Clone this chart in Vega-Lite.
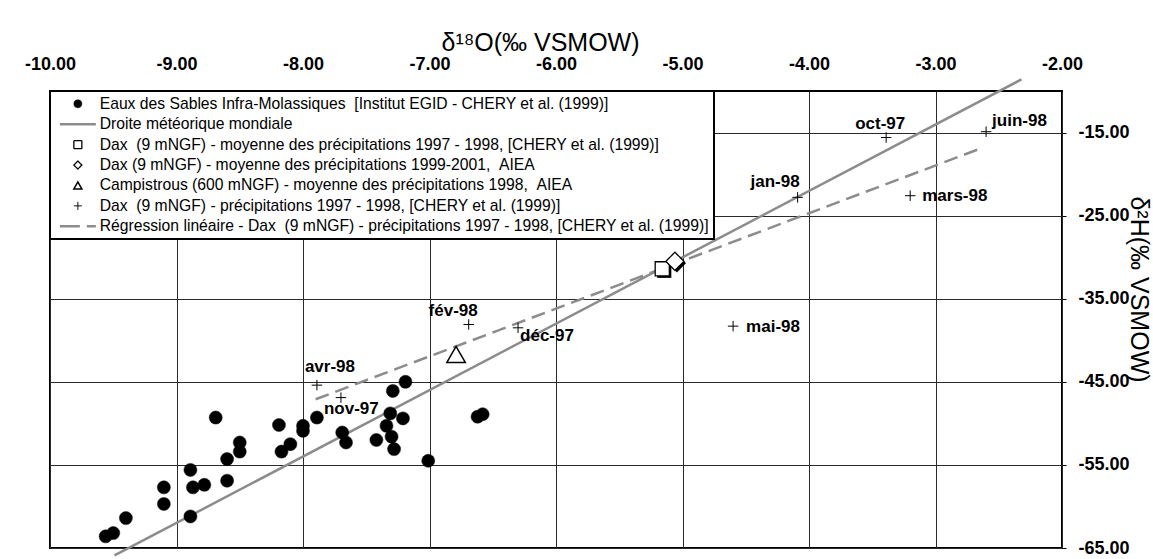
{
  "$schema": "https://vega.github.io/schema/vega-lite/v6.json",
  "width": 1012,
  "height": 457,
  "autosize": {"type": "none"},
  "padding": {"left": 50, "top": 91, "right": 91, "bottom": 11},
  "background": "white",
  "config": {
    "font": "Liberation Sans",
    "view": {"stroke": "black", "strokeWidth": 2},
    "axis": {
      "grid": true, "gridColor": "#2a2a2a", "gridWidth": 1, "gridOpacity": 1,
      "domain": false,
      "labelFont": "Liberation Sans", "labelFontWeight": "bold", "labelFontSize": 18, "labelColor": "black",
      "titleFont": "Liberation Sans", "titleFontWeight": "normal", "titleFontSize": 25, "titleColor": "black",
      "labelFlush": false, "labelOverlap": false, "tickColor": "black",
      "labelExpr": "replace(format(datum.value, '.2f'), '\u2212', '-')"
    },
    "legend": {
      "orient": "top-left", "offset": 0, "padding": 5,
      "fillColor": "white", "strokeColor": "black", "strokeWidth": 2,
      "symbolSize": 64, "symbolStrokeWidth": 1.3, "symbolOffset": 15,
      "labelOffset": 14, "labelFont": "Liberation Sans", "labelFontSize": 15.7, "labelColor": "black",
      "labelLimit": 900, "rowPadding": 3.4
    }
  },
  "datasets": {
    "points": [
      {"serie": "Eaux des Sables Infra-Molassiques \u00a0[Institut EGID - CHERY et al. (1999)]", "o18": -7.29, "h2": -46.1},
      {"serie": "Eaux des Sables Infra-Molassiques \u00a0[Institut EGID - CHERY et al. (1999)]", "o18": -7.19, "h2": -45.0},
      {"serie": "Eaux des Sables Infra-Molassiques \u00a0[Institut EGID - CHERY et al. (1999)]", "o18": -7.31, "h2": -48.8},
      {"serie": "Eaux des Sables Infra-Molassiques \u00a0[Institut EGID - CHERY et al. (1999)]", "o18": -7.34, "h2": -50.3},
      {"serie": "Eaux des Sables Infra-Molassiques \u00a0[Institut EGID - CHERY et al. (1999)]", "o18": -7.21, "h2": -49.4},
      {"serie": "Eaux des Sables Infra-Molassiques \u00a0[Institut EGID - CHERY et al. (1999)]", "o18": -7.30, "h2": -51.6},
      {"serie": "Eaux des Sables Infra-Molassiques \u00a0[Institut EGID - CHERY et al. (1999)]", "o18": -7.28, "h2": -53.1},
      {"serie": "Eaux des Sables Infra-Molassiques \u00a0[Institut EGID - CHERY et al. (1999)]", "o18": -7.42, "h2": -52.0},
      {"serie": "Eaux des Sables Infra-Molassiques \u00a0[Institut EGID - CHERY et al. (1999)]", "o18": -7.69, "h2": -51.1},
      {"serie": "Eaux des Sables Infra-Molassiques \u00a0[Institut EGID - CHERY et al. (1999)]", "o18": -7.66, "h2": -52.3},
      {"serie": "Eaux des Sables Infra-Molassiques \u00a0[Institut EGID - CHERY et al. (1999)]", "o18": -7.89, "h2": -49.3},
      {"serie": "Eaux des Sables Infra-Molassiques \u00a0[Institut EGID - CHERY et al. (1999)]", "o18": -8.00, "h2": -50.3},
      {"serie": "Eaux des Sables Infra-Molassiques \u00a0[Institut EGID - CHERY et al. (1999)]", "o18": -8.00, "h2": -50.9},
      {"serie": "Eaux des Sables Infra-Molassiques \u00a0[Institut EGID - CHERY et al. (1999)]", "o18": -8.10, "h2": -52.5},
      {"serie": "Eaux des Sables Infra-Molassiques \u00a0[Institut EGID - CHERY et al. (1999)]", "o18": -8.17, "h2": -53.4},
      {"serie": "Eaux des Sables Infra-Molassiques \u00a0[Institut EGID - CHERY et al. (1999)]", "o18": -8.19, "h2": -50.2},
      {"serie": "Eaux des Sables Infra-Molassiques \u00a0[Institut EGID - CHERY et al. (1999)]", "o18": -8.50, "h2": -52.3},
      {"serie": "Eaux des Sables Infra-Molassiques \u00a0[Institut EGID - CHERY et al. (1999)]", "o18": -8.50, "h2": -53.4},
      {"serie": "Eaux des Sables Infra-Molassiques \u00a0[Institut EGID - CHERY et al. (1999)]", "o18": -8.60, "h2": -54.3},
      {"serie": "Eaux des Sables Infra-Molassiques \u00a0[Institut EGID - CHERY et al. (1999)]", "o18": -8.60, "h2": -56.9},
      {"serie": "Eaux des Sables Infra-Molassiques \u00a0[Institut EGID - CHERY et al. (1999)]", "o18": -8.69, "h2": -49.3},
      {"serie": "Eaux des Sables Infra-Molassiques \u00a0[Institut EGID - CHERY et al. (1999)]", "o18": -8.78, "h2": -57.4},
      {"serie": "Eaux des Sables Infra-Molassiques \u00a0[Institut EGID - CHERY et al. (1999)]", "o18": -8.87, "h2": -57.7},
      {"serie": "Eaux des Sables Infra-Molassiques \u00a0[Institut EGID - CHERY et al. (1999)]", "o18": -8.89, "h2": -55.6},
      {"serie": "Eaux des Sables Infra-Molassiques \u00a0[Institut EGID - CHERY et al. (1999)]", "o18": -8.89, "h2": -61.2},
      {"serie": "Eaux des Sables Infra-Molassiques \u00a0[Institut EGID - CHERY et al. (1999)]", "o18": -9.10, "h2": -57.7},
      {"serie": "Eaux des Sables Infra-Molassiques \u00a0[Institut EGID - CHERY et al. (1999)]", "o18": -9.10, "h2": -59.7},
      {"serie": "Eaux des Sables Infra-Molassiques \u00a0[Institut EGID - CHERY et al. (1999)]", "o18": -9.40, "h2": -61.4},
      {"serie": "Eaux des Sables Infra-Molassiques \u00a0[Institut EGID - CHERY et al. (1999)]", "o18": -9.50, "h2": -63.2},
      {"serie": "Eaux des Sables Infra-Molassiques \u00a0[Institut EGID - CHERY et al. (1999)]", "o18": -9.56, "h2": -63.6},
      {"serie": "Eaux des Sables Infra-Molassiques \u00a0[Institut EGID - CHERY et al. (1999)]", "o18": -7.01, "h2": -54.5},
      {"serie": "Eaux des Sables Infra-Molassiques \u00a0[Institut EGID - CHERY et al. (1999)]", "o18": -6.62, "h2": -49.2},
      {"serie": "Eaux des Sables Infra-Molassiques \u00a0[Institut EGID - CHERY et al. (1999)]", "o18": -6.58, "h2": -48.9},
      {"serie": "Dax \u00a0(9 mNGF) - moyenne des précipitations 1997 - 1998, [CHERY et al. (1999)]", "o18": -5.16, "h2": -31.4},
      {"serie": "Dax (9 mNGF) - moyenne des précipitations 1999-2001, \u00a0AIEA", "o18": -5.06, "h2": -30.5},
      {"serie": "Campistrous (600 mNGF) - moyenne des précipitations 1998, \u00a0AIEA", "o18": -6.79, "h2": -41.7}
    ],
    "crosses": [
      {"serie": "Dax \u00a0(9 mNGF) - précipitations 1997 - 1998, [CHERY et al. (1999)]", "mois": "oct-97", "o18": -3.39, "h2": -15.6},
      {"serie": "Dax \u00a0(9 mNGF) - précipitations 1997 - 1998, [CHERY et al. (1999)]", "mois": "nov-97", "o18": -7.70, "h2": -46.9},
      {"serie": "Dax \u00a0(9 mNGF) - précipitations 1997 - 1998, [CHERY et al. (1999)]", "mois": "déc-97", "o18": -6.30, "h2": -38.5},
      {"serie": "Dax \u00a0(9 mNGF) - précipitations 1997 - 1998, [CHERY et al. (1999)]", "mois": "jan-98", "o18": -4.09, "h2": -22.8},
      {"serie": "Dax \u00a0(9 mNGF) - précipitations 1997 - 1998, [CHERY et al. (1999)]", "mois": "fév-98", "o18": -6.69, "h2": -38.1},
      {"serie": "Dax \u00a0(9 mNGF) - précipitations 1997 - 1998, [CHERY et al. (1999)]", "mois": "mars-98", "o18": -3.20, "h2": -22.6},
      {"serie": "Dax \u00a0(9 mNGF) - précipitations 1997 - 1998, [CHERY et al. (1999)]", "mois": "avr-98", "o18": -7.89, "h2": -45.4},
      {"serie": "Dax \u00a0(9 mNGF) - précipitations 1997 - 1998, [CHERY et al. (1999)]", "mois": "mai-98", "o18": -4.60, "h2": -38.3},
      {"serie": "Dax \u00a0(9 mNGF) - précipitations 1997 - 1998, [CHERY et al. (1999)]", "mois": "juin-98", "o18": -2.60, "h2": -14.9}
    ],
    "gmwl": [
      {"serie": "Droite météorique mondiale", "o18": -9.49, "h2": -65.9},
      {"serie": "Droite météorique mondiale", "o18": -2.32, "h2": -8.6}
    ],
    "regression": [
      {"serie": "Régression linéaire - Dax \u00a0(9 mNGF) - précipitations 1997 - 1998, [CHERY et al. (1999)]", "o18": -7.90, "h2": -47.1},
      {"serie": "Régression linéaire - Dax \u00a0(9 mNGF) - précipitations 1997 - 1998, [CHERY et al. (1999)]", "o18": -2.64, "h2": -16.9}
    ]
  },
  "encoding": {
    "x": {
      "field": "o18", "type": "quantitative",
      "scale": {"domain": [-10, -2], "nice": false, "zero": false},
      "axis": {
        "orient": "top", "values": [-10, -9, -8, -7, -6, -5, -4, -3, -2],
        "title": "δ¹⁸O(‰ VSMOW)", "ticks": false, "labelPadding": 18,
        "titleX": 490, "titleY": -41, "titleBaseline": "alphabetic", "titleAlign": "center", "titleAnchor": null
      }
    },
    "y": {
      "field": "h2", "type": "quantitative",
      "scale": {"domain": [-65, -10], "nice": false, "zero": false},
      "axis": {
        "orient": "right", "values": [-15, -25, -35, -45, -55, -65],
        "title": "δ²H(‰ VSMOW)", "tickSize": 4, "labelPadding": 12,
        "titleX": 68, "titleY": 198, "titleAngle": 90, "titleBaseline": "alphabetic", "titleAlign": "center", "titleAnchor": null
      }
    }
  },
  "layer": [
    {
      "data": {"name": "gmwl"},
      "mark": {"type": "line", "color": "#8c8c8c", "strokeWidth": 2.5, "clip": false}
    },
    {
      "data": {"name": "regression"},
      "mark": {"type": "line", "color": "#8c8c8c", "strokeWidth": 2.5, "strokeDash": [14, 7], "clip": false}
    },
    {
      "data": {"name": "points"},
      "transform": [{"filter": "indexof(datum.serie, '1997 - 1998, [CHERY') > 0"}],
      "mark": {"type": "point", "shape": "square", "size": 200, "filled": true, "color": "black", "opacity": 1, "xOffset": 2, "yOffset": 2}
    },
    {
      "data": {"name": "points"},
      "transform": [{"filter": "indexof(datum.serie, '1999-2001') > 0"}],
      "mark": {"type": "point", "shape": "diamond", "size": 330, "filled": true, "color": "black", "opacity": 1, "xOffset": 2, "yOffset": 2}
    },
    {
      "data": {"name": "points"},
      "mark": {"type": "point", "opacity": 1},
      "encoding": {
        "fill": {"field": "serie", "type": "nominal", "title": null,
          "scale": {"domain": ["Eaux des Sables Infra-Molassiques \u00a0[Institut EGID - CHERY et al. (1999)]", "Droite météorique mondiale", "Dax \u00a0(9 mNGF) - moyenne des précipitations 1997 - 1998, [CHERY et al. (1999)]", "Dax (9 mNGF) - moyenne des précipitations 1999-2001, \u00a0AIEA", "Campistrous (600 mNGF) - moyenne des précipitations 1998, \u00a0AIEA", "Dax \u00a0(9 mNGF) - précipitations 1997 - 1998, [CHERY et al. (1999)]", "Régression linéaire - Dax \u00a0(9 mNGF) - précipitations 1997 - 1998, [CHERY et al. (1999)]"],
            "range": ["black", "transparent", "white", "white", "white", "transparent", "transparent"]}},
        "stroke": {"field": "serie", "type": "nominal", "title": null,
          "scale": {"domain": ["Eaux des Sables Infra-Molassiques \u00a0[Institut EGID - CHERY et al. (1999)]", "Droite météorique mondiale", "Dax \u00a0(9 mNGF) - moyenne des précipitations 1997 - 1998, [CHERY et al. (1999)]", "Dax (9 mNGF) - moyenne des précipitations 1999-2001, \u00a0AIEA", "Campistrous (600 mNGF) - moyenne des précipitations 1998, \u00a0AIEA", "Dax \u00a0(9 mNGF) - précipitations 1997 - 1998, [CHERY et al. (1999)]", "Régression linéaire - Dax \u00a0(9 mNGF) - précipitations 1997 - 1998, [CHERY et al. (1999)]"],
            "range": ["black", "#8c8c8c", "black", "black", "black", "black", "#8c8c8c"]}},
        "shape": {"field": "serie", "type": "nominal", "title": null,
          "scale": {"domain": ["Eaux des Sables Infra-Molassiques \u00a0[Institut EGID - CHERY et al. (1999)]", "Droite météorique mondiale", "Dax \u00a0(9 mNGF) - moyenne des précipitations 1997 - 1998, [CHERY et al. (1999)]", "Dax (9 mNGF) - moyenne des précipitations 1999-2001, \u00a0AIEA", "Campistrous (600 mNGF) - moyenne des précipitations 1998, \u00a0AIEA", "Dax \u00a0(9 mNGF) - précipitations 1997 - 1998, [CHERY et al. (1999)]", "Régression linéaire - Dax \u00a0(9 mNGF) - précipitations 1997 - 1998, [CHERY et al. (1999)]"],
            "range": ["circle", "M-4.5,0H4.5", "square", "diamond", "triangle-up", "M-1,0H1M0,-1V1", "M-4.5,0H4.5"]}},
        "strokeDash": {"field": "serie", "type": "nominal", "title": null,
          "scale": {"domain": ["Eaux des Sables Infra-Molassiques \u00a0[Institut EGID - CHERY et al. (1999)]", "Droite météorique mondiale", "Dax \u00a0(9 mNGF) - moyenne des précipitations 1997 - 1998, [CHERY et al. (1999)]", "Dax (9 mNGF) - moyenne des précipitations 1999-2001, \u00a0AIEA", "Campistrous (600 mNGF) - moyenne des précipitations 1998, \u00a0AIEA", "Dax \u00a0(9 mNGF) - précipitations 1997 - 1998, [CHERY et al. (1999)]", "Régression linéaire - Dax \u00a0(9 mNGF) - précipitations 1997 - 1998, [CHERY et al. (1999)]"],
            "range": [[1, 0], [1, 0], [1, 0], [1, 0], [1, 0], [1, 0], [20, 7]]}},
        "strokeWidth": {"field": "serie", "type": "nominal", "title": null,
          "scale": {"type": "ordinal", "domain": ["Eaux des Sables Infra-Molassiques \u00a0[Institut EGID - CHERY et al. (1999)]", "Droite météorique mondiale", "Dax \u00a0(9 mNGF) - moyenne des précipitations 1997 - 1998, [CHERY et al. (1999)]", "Dax (9 mNGF) - moyenne des précipitations 1999-2001, \u00a0AIEA", "Campistrous (600 mNGF) - moyenne des précipitations 1998, \u00a0AIEA", "Dax \u00a0(9 mNGF) - précipitations 1997 - 1998, [CHERY et al. (1999)]", "Régression linéaire - Dax \u00a0(9 mNGF) - précipitations 1997 - 1998, [CHERY et al. (1999)]"],
            "range": [0.5, 2.5, 1.3, 1.3, 1.5, 1, 2.5]}},
        "size": {"field": "serie", "type": "nominal", "legend": null,
          "scale": {"type": "ordinal", "domain": ["Eaux des Sables Infra-Molassiques \u00a0[Institut EGID - CHERY et al. (1999)]", "Dax \u00a0(9 mNGF) - moyenne des précipitations 1997 - 1998, [CHERY et al. (1999)]", "Dax (9 mNGF) - moyenne des précipitations 1999-2001, \u00a0AIEA", "Campistrous (600 mNGF) - moyenne des précipitations 1998, \u00a0AIEA"],
            "range": [169, 200, 330, 340]}}
      }
    },
    {
      "data": {"name": "crosses"},
      "mark": {"type": "point", "opacity": 1, "shape": "M-1,0H1M0,-1V1", "size": 110, "stroke": "black", "strokeWidth": 1, "fill": "transparent"}
    },
    {
      "data": {"name": "crosses"},
      "transform": [{"filter": {"field": "mois", "equal": "oct-97"}}],
      "mark": {"type": "text", "font": "Liberation Sans", "fontWeight": "bold", "fontSize": 17, "color": "black", "align": "center", "baseline": "alphabetic", "dx": -6, "dy": -9},
      "encoding": {"text": {"field": "mois"}}
    },
    {
      "data": {"name": "crosses"},
      "transform": [{"filter": {"field": "mois", "equal": "juin-98"}}],
      "mark": {"type": "text", "font": "Liberation Sans", "fontWeight": "bold", "fontSize": 17, "color": "black", "align": "left", "baseline": "alphabetic", "dx": 6, "dy": -6},
      "encoding": {"text": {"field": "mois"}}
    },
    {
      "data": {"name": "crosses"},
      "transform": [{"filter": {"field": "mois", "equal": "jan-98"}}],
      "mark": {"type": "text", "font": "Liberation Sans", "fontWeight": "bold", "fontSize": 17, "color": "black", "align": "right", "baseline": "alphabetic", "dx": 2, "dy": -10},
      "encoding": {"text": {"field": "mois"}}
    },
    {
      "data": {"name": "crosses"},
      "transform": [{"filter": {"field": "mois", "equal": "mars-98"}}],
      "mark": {"type": "text", "font": "Liberation Sans", "fontWeight": "bold", "fontSize": 17, "color": "black", "align": "left", "baseline": "alphabetic", "dx": 12, "dy": 5},
      "encoding": {"text": {"field": "mois"}}
    },
    {
      "data": {"name": "crosses"},
      "transform": [{"filter": {"field": "mois", "equal": "mai-98"}}],
      "mark": {"type": "text", "font": "Liberation Sans", "fontWeight": "bold", "fontSize": 17, "color": "black", "align": "left", "baseline": "alphabetic", "dx": 13, "dy": 6},
      "encoding": {"text": {"field": "mois"}}
    },
    {
      "data": {"name": "crosses"},
      "transform": [{"filter": {"field": "mois", "equal": "fév-98"}}],
      "mark": {"type": "text", "font": "Liberation Sans", "fontWeight": "bold", "fontSize": 17, "color": "black", "align": "right", "baseline": "alphabetic", "dx": 9, "dy": -8},
      "encoding": {"text": {"field": "mois"}}
    },
    {
      "data": {"name": "crosses"},
      "transform": [{"filter": {"field": "mois", "equal": "déc-97"}}],
      "mark": {"type": "text", "font": "Liberation Sans", "fontWeight": "bold", "fontSize": 17, "color": "black", "align": "left", "baseline": "alphabetic", "dx": 2, "dy": 13},
      "encoding": {"text": {"field": "mois"}}
    },
    {
      "data": {"name": "crosses"},
      "transform": [{"filter": {"field": "mois", "equal": "avr-98"}}],
      "mark": {"type": "text", "font": "Liberation Sans", "fontWeight": "bold", "fontSize": 17, "color": "black", "align": "left", "baseline": "alphabetic", "dx": -12, "dy": -13},
      "encoding": {"text": {"field": "mois"}}
    },
    {
      "data": {"name": "crosses"},
      "transform": [{"filter": {"field": "mois", "equal": "nov-97"}}],
      "mark": {"type": "text", "font": "Liberation Sans", "fontWeight": "bold", "fontSize": 17, "color": "black", "align": "left", "baseline": "alphabetic", "dx": -17, "dy": 16},
      "encoding": {"text": {"field": "mois"}}
    }
  ]
}
